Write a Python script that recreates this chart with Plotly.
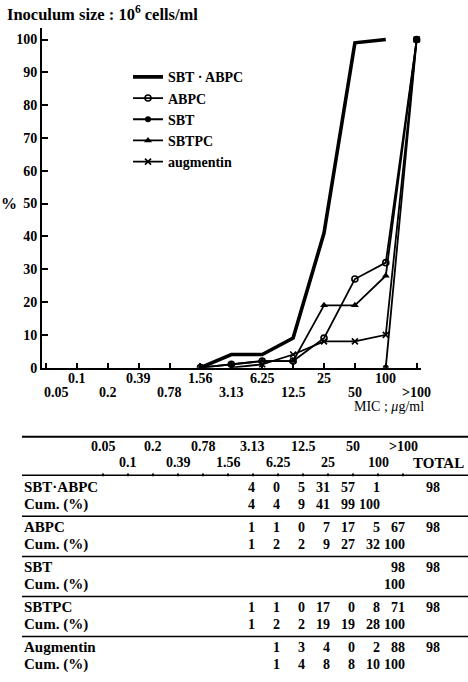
import plotly.graph_objects as go

# MIC classes (µg/ml) along the x axis and the table columns
mic_labels = ["0.05", "0.1", "0.2", "0.39", "0.78", "1.56", "3.13",
              "6.25", "12.5", "25", "50", "100", ">100"]

# Table row names and legend names
drug_names = ["SBT·ABPC", "ABPC", "SBT", "SBTPC", "Augmentin"]
legend_names = ["SBT · ABPC", "ABPC", "SBT", "SBTPC", "augmentin"]

# Number of strains per MIC class
sbt_abpc_n = [None, None, None, None, None, None, 4, 0, 5, 31, 57, 1, None]
abpc_n = [None, None, None, None, None, None, 1, 1, 0, 7, 17, 5, 67]
sbt_n = [None, None, None, None, None, None, None, None, None, None, None, None, 98]
sbtpc_n = [None, None, None, None, None, None, 1, 1, 0, 17, 0, 8, 71]
augmentin_n = [None, None, None, None, None, None, None, 1, 3, 4, 0, 2, 88]

# Cumulative percentage per MIC class
sbt_abpc_cum = [None, None, None, None, None, None, 4, 4, 9, 41, 99, 100, None]
abpc_cum = [None, None, None, None, None, None, 1, 2, 2, 9, 27, 32, 100]
sbt_cum = [None, None, None, None, None, None, None, None, None, None, None, None, 100]
sbtpc_cum = [None, None, None, None, None, None, 1, 2, 2, 19, 19, 28, 100]
augmentin_cum = [None, None, None, None, None, None, None, 1, 4, 8, 8, 10, 100]

totals = [98, 98, 98, 98, 98]

counts = [sbt_abpc_n, abpc_n, sbt_n, sbtpc_n, augmentin_n]
cums = [sbt_abpc_cum, abpc_cum, sbt_cum, sbtpc_cum, augmentin_cum]

W, H = 468, 682
SERIF = "Liberation Serif, Times New Roman, serif"


def px(x):
    return x / W


def py(y):
    return 1 - y / H


styles = [
    dict(mode="lines", line=dict(color="black", width=3.6)),
    dict(mode="lines+markers", line=dict(color="black", width=1.8),
         marker=dict(symbol="circle-open", size=6, color="black", line=dict(width=1.6))),
    dict(mode="lines+markers", line=dict(color="black", width=1.8),
         marker=dict(symbol="circle", size=6, color="black")),
    dict(mode="lines+markers", line=dict(color="black", width=1.8),
         marker=dict(symbol="triangle-up", size=7, color="black")),
    dict(mode="lines+markers", line=dict(color="black", width=1.8),
         marker=dict(symbol="x-thin", size=6, color="black", line=dict(width=1.6, color="black"))),
]

fig = go.Figure()

for name, cum, st in zip(legend_names, cums, styles):
    idx = [i for i, v in enumerate(cum) if v is not None]
    # each curve starts from 0 % at the class just below its first entry
    xs = [idx[0] - 1] + idx
    ys = [0] + [cum[i] for i in idx]
    fig.add_trace(go.Scatter(x=xs, y=ys, name=name, **st))

ann = []

# title
ann.append(dict(x=px(5), y=py(14), xref="paper", yref="paper", xanchor="left",
                yanchor="middle", showarrow=False,
                text="Inoculum size : 10<sup>6</sup> cells/ml",
                font=dict(family=SERIF, size=16.5, color="black", weight="bold")))

# x tick labels on two staggered rows
for i, lab in enumerate(mic_labels):
    row_y = 383 if i % 2 == 1 else 397
    ann.append(dict(x=i, y=py(row_y), xref="x", yref="paper", xanchor="center",
                    yanchor="middle", showarrow=False, text=lab,
                    xshift=10 if i == 0 else 0,
                    font=dict(family=SERIF, size=14, color="black", weight="bold")))

ann.append(dict(x=px(426), y=py(411), xref="paper", yref="paper", xanchor="right",
                yanchor="middle", showarrow=False, text="MIC ; <i>μ</i>g/ml",
                font=dict(family=SERIF, size=14, color="black")))

ann.append(dict(x=px(9), y=50, xref="paper", yref="y", xanchor="center",
                yanchor="middle", showarrow=False, text="%",
                font=dict(family=SERIF, size=16, color="black", weight="bold")))

# ---- table ----
col0, dcol = 103, 25
col_x = [col0 + dcol * i for i in range(len(mic_labels))]
total_x = 442

shapes = []
shapes.append(dict(type="line", xref="paper", yref="paper", x0=px(22), x1=px(468),
                   y0=py(442), y1=py(442), line=dict(color="black", width=2)))
shapes.append(dict(type="line", xref="paper", yref="paper", x0=px(22), x1=px(468),
                   y0=py(481), y1=py(481), line=dict(color="black", width=1.5)))
for cx in col_x:
    shapes.append(dict(type="line", xref="paper", yref="paper", x0=px(cx), x1=px(cx),
                       y0=py(479), y1=py(482), line=dict(color="black", width=2)))

hfont = dict(family=SERIF, size=14, color="black", weight="bold")
nfont = dict(family=SERIF, size=15, color="black", weight="bold")
for i, lab in enumerate(mic_labels):
    ann.append(dict(x=px(col_x[i]), y=py(452 if i % 2 == 0 else 468), xref="paper",
                    yref="paper", xanchor="center", yanchor="middle", showarrow=False,
                    text=lab, font=hfont))
ann.append(dict(x=px(438), y=py(468), xref="paper", yref="paper", xanchor="center",
                yanchor="middle", showarrow=False, text="TOTAL", font=nfont))

row0, group_step, cum_step = 493, 40.5, 17
for g, (name, cnt, cum, tot) in enumerate(zip(drug_names, counts, cums, totals)):
    y1 = row0 + group_step * g
    y2 = y1 + cum_step
    if g > 0:
        shapes.append(dict(type="line", xref="paper", yref="paper", x0=px(22), x1=px(468),
                           y0=py(y1 - 11), y1=py(y1 - 11), line=dict(color="black", width=1.5)))
    ann.append(dict(x=px(22), y=py(y1), xref="paper", yref="paper", xanchor="left",
                    yanchor="middle", showarrow=False, text=name, font=nfont))
    ann.append(dict(x=px(22), y=py(y2), xref="paper", yref="paper", xanchor="left",
                    yanchor="middle", showarrow=False, text="Cum. (%)", font=nfont))
    for i in range(len(mic_labels)):
        for val, yy in ((cnt[i], y1), (cum[i], y2)):
            if val is not None:
                ann.append(dict(x=px(col_x[i] + 4), y=py(yy), xref="paper", yref="paper",
                                xanchor="right", yanchor="middle", showarrow=False,
                                text=str(val), font=hfont))
    ann.append(dict(x=px(total_x), y=py(y1), xref="paper", yref="paper", xanchor="right",
                    yanchor="middle", showarrow=False, text=str(tot), font=hfont))

# axis geometry
y_top_val = 103.5
y0_px, y100_px = 372, 40
unit = (y0_px - y100_px) / 100
y_top_px = y0_px - y_top_val * unit

fig.update_layout(
    width=W, height=H, margin=dict(l=0, r=0, t=0, b=0),
    paper_bgcolor="white", plot_bgcolor="white",
    annotations=ann, shapes=shapes,
    legend=dict(x=px(128), y=py(62), xanchor="left", yanchor="top",
                bgcolor="rgba(0,0,0,0)", itemwidth=30, tracegroupgap=0,
                font=dict(family=SERIF, size=14, color="black", weight="bold")),
    xaxis=dict(domain=[px(42), px(421)], range=[-0.13, 12.14], showline=True,
               linecolor="black", linewidth=2, ticks="inside", ticklen=5,
               tickwidth=1.5, tickcolor="black", tickvals=list(range(len(mic_labels))),
               showticklabels=False, showgrid=False, zeroline=False, fixedrange=True),
    yaxis=dict(domain=[py(y0_px), py(y_top_px)], range=[0, y_top_val], showline=True,
               linecolor="black", linewidth=2, ticks="inside", ticklen=6,
               tickwidth=1.5, tickcolor="black", tickvals=list(range(0, 101, 10)),
               tickfont=dict(family=SERIF, size=14, color="black", weight="bold"),
               showgrid=False, zeroline=False, fixedrange=True),
)

fig.write_html("out.html")
